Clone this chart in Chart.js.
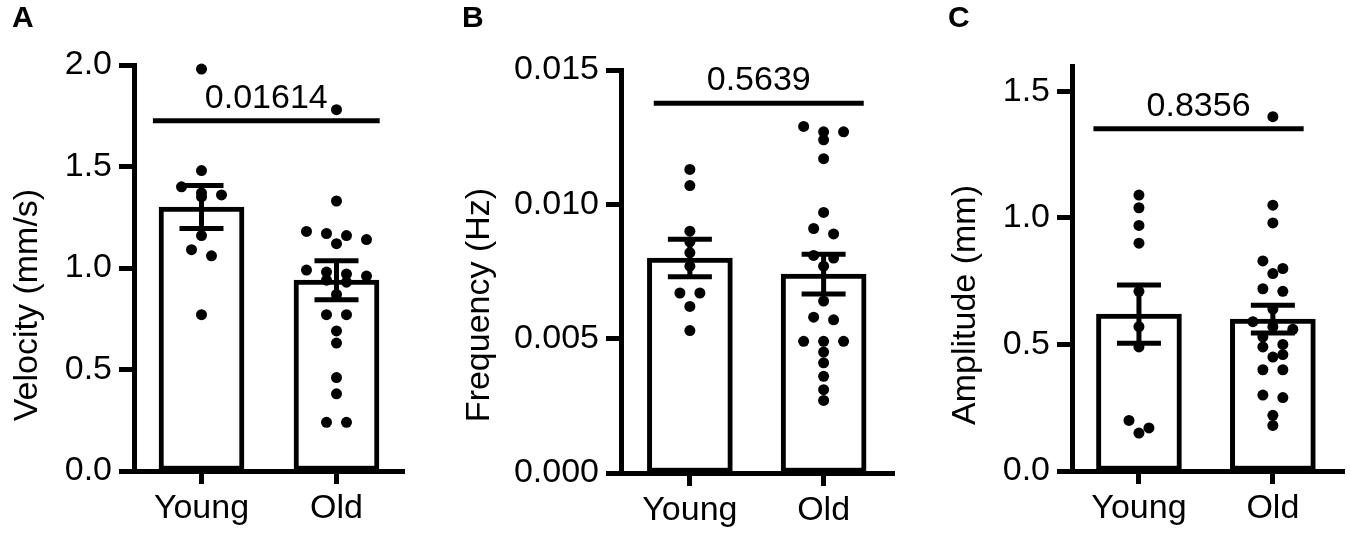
<!DOCTYPE html>
<html>
<head>
<meta charset="utf-8">
<script src="https://cdn.jsdelivr.net/npm/chart.js@4.4.1/dist/chart.umd.min.js"></script>
<style>
  body { margin: 0; background: #fff; }
  #wrap { position: relative; width: 1350px; height: 540px; }
  .panel { position: absolute; top: 0; width: 450px; height: 540px; }
</style>
</head>
<body>
<div id="wrap">
  <div class="panel" style="left:0px"><canvas id="chartA"></canvas></div>
  <div class="panel" style="left:450px"><canvas id="chartB"></canvas></div>
  <div class="panel" style="left:900px"><canvas id="chartC"></canvas></div>
</div>
<script>
// data
const groups = ["Young", "Old"];

const velocityYoung = [1.98, 1.48, 1.40, 1.37, 1.36, 1.35, 1.16, 1.09, 1.06, 0.77];
const velocityOld = [1.78, 1.33, 1.18, 1.17, 1.16, 1.14, 1.12, 0.99, 0.98, 0.97, 0.96,
                     0.94, 0.93, 0.87, 0.77, 0.77, 0.69, 0.63, 0.46, 0.38, 0.24, 0.24];
const velocityMean = [1.30, 0.94];
const velocitySem = [0.106, 0.096];
const velocityTicks = [0, 0.5, 1.0, 1.5, 2.0];

const frequencyYoung = [0.0113, 0.0107, 0.0090, 0.0086, 0.0082, 0.0077, 0.0067, 0.0067, 0.0062, 0.0053];
const frequencyOld = [0.0129, 0.0127, 0.0127, 0.0124, 0.0117, 0.0097, 0.0091, 0.0089, 0.0081, 0.0080, 0.0077,
                      0.0064, 0.0058, 0.0057, 0.0049, 0.0049, 0.0049, 0.0045, 0.0041, 0.0036, 0.0031, 0.0027];
const frequencyMean = [0.0080, 0.0074];
const frequencySem = [0.0007, 0.00074];
const frequencyTicks = [0, 0.005, 0.010, 0.015];

const amplitudeYoung = [1.09, 1.04, 0.97, 0.90, 0.71, 0.57, 0.49, 0.20, 0.17, 0.15];
const amplitudeOld = [1.40, 1.05, 0.98, 0.83, 0.80, 0.78, 0.72, 0.71, 0.64, 0.59, 0.57, 0.56,
                      0.53, 0.50, 0.49, 0.46, 0.45, 0.40, 0.40, 0.30, 0.29, 0.22, 0.18];
const amplitudeMean = [0.62, 0.60];
const amplitudeSem = [0.115, 0.055];
const amplitudeTicks = [0, 0.5, 1.0, 1.5];

const pValues = ["0.01614", "0.5639", "0.8356"];
const sigLevels = [1.725, 0.01376, 1.352];
const yTitles = ["Velocity (mm/s)", "Frequency (Hz)", "Amplitude (mm)"];
const letters = ["A", "B", "C"];

const FONT = "'Liberation Sans', Arial, Helvetica, sans-serif";

// layout of each panel (page pixels)
const panels = [
    { id: "chartA", offset: 0, left: 134, right: 404, top: 65, bottom: 471,
      xMin: 0.5, xMax: 2.5, yMax: 2.0, decimals: 1,
      young: velocityYoung, old: velocityOld, mean: velocityMean, sem: velocitySem, ticks: velocityTicks,
      sigFrom: 0.64, sigTo: 2.32, titleX: 28, letterX: 12 },
    { id: "chartB", offset: 450, left: 621, right: 895, top: 70, bottom: 473,
      xMin: 0.485, xMax: 2.53, yMax: 0.015, decimals: 3,
      young: frequencyYoung, old: frequencyOld, mean: frequencyMean, sem: frequencySem, ticks: frequencyTicks,
      sigFrom: 0.73, sigTo: 2.30, titleX: 30, letterX: 12 },
    { id: "chartC", offset: 900, left: 1072, right: 1345, top: 66, bottom: 471,
      xMin: 0.5, xMax: 2.535, yMax: 1.6, decimals: 1,
      young: amplitudeYoung, old: amplitudeOld, mean: amplitudeMean, sem: amplitudeSem, ticks: amplitudeTicks,
      sigFrom: 0.66, sigTo: 2.23, titleX: 66, letterX: 48 }
];

// spread dots sideways when they sit at nearly the same height
function swarm(values, center, pxPerY, pxPerX) {
    const sorted = values.slice().sort((a, b) => b - a);
    const pts = [];
    let i = 0;
    while (i < sorted.length) {
        let j = i;
        while (j + 1 < sorted.length && (sorted[i] - sorted[j + 1]) * pxPerY < 10) j++;
        const k = j - i + 1;
        for (let n = 0; n < k; n++) {
            const off = (n - (k - 1) / 2) * 20;
            pts.push({ x: center + off / pxPerX, y: sorted[i + n] });
        }
        i = j + 1;
    }
    return pts;
}

const extras = {
    id: "extras",
    afterDatasetsDraw(chart, args, opts) {
        const ctx = chart.ctx;
        const x = chart.scales.x, y = chart.scales.y;
        ctx.save();
        ctx.strokeStyle = "#000";
        ctx.fillStyle = "#000";
        ctx.lineWidth = 5;
        // mean +/- SEM
        opts.mean.forEach((m, i) => {
            const cx = x.getPixelForValue(i + 1);
            const hi = y.getPixelForValue(m + opts.sem[i]);
            const lo = y.getPixelForValue(m - opts.sem[i]);
            ctx.beginPath();
            ctx.moveTo(cx, hi); ctx.lineTo(cx, lo);
            ctx.moveTo(cx - 22, hi); ctx.lineTo(cx + 22, hi);
            ctx.moveTo(cx - 22, lo); ctx.lineTo(cx + 22, lo);
            ctx.stroke();
        });
        // comparison line with p value
        const sy = y.getPixelForValue(opts.sigLevel);
        const x1 = x.getPixelForValue(opts.sigFrom);
        const x2 = x.getPixelForValue(opts.sigTo);
        ctx.beginPath();
        ctx.moveTo(x1, sy); ctx.lineTo(x2, sy);
        ctx.stroke();
        ctx.font = "34px " + FONT;
        ctx.textAlign = "center";
        ctx.textBaseline = "alphabetic";
        ctx.fillText(opts.pValue, (x1 + x2) / 2, sy - 13);
        ctx.restore();
    },
    afterDraw(chart, args, opts) {
        const ctx = chart.ctx;
        ctx.save();
        ctx.fillStyle = "#000";
        ctx.font = "bold 30px " + FONT;
        ctx.textAlign = "left";
        ctx.textBaseline = "alphabetic";
        ctx.fillText(opts.letter, opts.letterX, 27);
        ctx.translate(opts.titleX, 305);
        ctx.rotate(-Math.PI / 2);
        ctx.font = "34px " + FONT;
        ctx.textAlign = "center";
        ctx.textBaseline = "middle";
        ctx.fillText(opts.title, 0, 0);
        ctx.restore();
    }
};

panels.forEach((p, idx) => {
    const pxPerY = (p.bottom - p.top) / p.yMax;
    const pxPerX = (p.right - p.left) / (p.xMax - p.xMin);
    const dots = swarm(p.young, 1, pxPerY, pxPerX).concat(swarm(p.old, 2, pxPerY, pxPerX));

    new Chart(document.getElementById(p.id), {
        type: "bar",
        data: {
            datasets: [
                {
                    type: "scatter",
                    data: dots,
                    pointRadius: 5.5,
                    pointBackgroundColor: "#000",
                    pointBorderWidth: 0,
                    order: 0,
                    clip: false
                },
                {
                    type: "bar",
                    data: p.mean.map((m, i) => ({ x: i + 1, y: m })),
                    backgroundColor: "#fff",
                    borderColor: "#000",
                    borderWidth: 5,
                    borderSkipped: false,
                    barThickness: 85,
                    order: 1
                }
            ]
        },
        options: {
            responsive: true,
            maintainAspectRatio: false,
            animation: false,
            events: [],
            layout: {
                padding: { left: 0, right: 450 - (p.right - p.offset), top: p.top, bottom: 0 }
            },
            scales: {
                x: {
                    type: "linear",
                    min: p.xMin,
                    max: p.xMax,
                    offset: false,
                    afterBuildTicks: s => { s.ticks = [{ value: 1 }, { value: 2 }]; },
                    afterFit: s => { s.height = 540 - p.bottom; },
                    grid: { display: true, drawOnChartArea: false, drawTicks: true,
                            tickLength: 13, tickWidth: 5, tickColor: "#000", offset: false },
                    border: { display: true, width: 5, color: "#000" },
                    ticks: {
                        color: "#000",
                        font: { family: FONT, size: 34 },
                        padding: 4,
                        maxRotation: 0,
                        callback: v => groups[Math.round(v) - 1]
                    }
                },
                y: {
                    min: 0,
                    max: p.yMax,
                    afterBuildTicks: s => { s.ticks = p.ticks.map(v => ({ value: v })); },
                    afterFit: s => { s.width = p.left - p.offset; },
                    grid: { display: true, drawOnChartArea: false, drawTicks: true,
                            tickLength: 15, tickWidth: 5, tickColor: "#000" },
                    border: { display: true, width: 5, color: "#000" },
                    ticks: {
                        color: "#000",
                        font: { family: FONT, size: 34 },
                        padding: 7,
                        callback: v => Number(v).toFixed(p.decimals)
                    }
                }
            },
            plugins: {
                legend: { display: false },
                tooltip: { enabled: false },
                extras: {
                    mean: p.mean,
                    sem: p.sem,
                    sigLevel: sigLevels[idx],
                    sigFrom: p.sigFrom,
                    sigTo: p.sigTo,
                    pValue: pValues[idx],
                    title: yTitles[idx],
                    titleX: p.titleX,
                    letter: letters[idx],
                    letterX: p.letterX
                }
            }
        },
        plugins: [extras]
    });
});
</script>
</body>
</html>
